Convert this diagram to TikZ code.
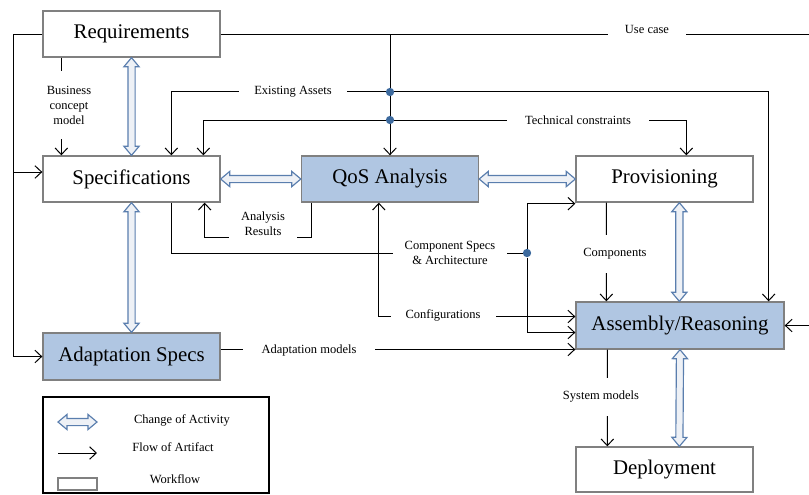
\documentclass[tikz,border=0pt]{standalone}
\usepackage{fontspec}
\setmainfont{Liberation Serif}
\usepackage{tikz}
\usetikzlibrary{positioning,calc,arrows.meta,shapes.arrows}
\definecolor{boxblue}{HTML}{B0C6E2}
\definecolor{boxgray}{HTML}{808080}
\definecolor{chgline}{HTML}{5A7EAE}
\definecolor{chgfill}{HTML}{EEF1F6}
\definecolor{dotblue}{HTML}{3D6A9E}
\tikzset{>={Straight Barb[length=4pt,width=7.5pt]}}
\tikzset{wbox/.style={draw=boxgray, line width=0.8pt, fill=white, minimum width=106.2pt, minimum height=27.6pt, inner sep=0pt, font=\fontsize{12.5}{14}\selectfont}}
\tikzset{bbox/.style={wbox, fill=boxblue}}
\tikzset{lbl/.style={fill=white, inner xsep=9pt, inner ysep=2pt, align=center, font=\fontsize{7.5}{9}\selectfont}}
\tikzset{vlbl/.style={lbl, inner xsep=1pt, inner ysep=6pt}}
\tikzset{dot/.style={circle, fill=dotblue, inner sep=0pt, minimum size=5pt}}
\tikzset{dblarr/.style={double arrow, draw=chgline, fill=chgfill, line width=0.7pt, inner sep=1.8pt, double arrow head extend=2.4pt, double arrow tip angle=80}}
\tikzset{chg/.style={to path={let \p1=($(\tikztotarget)-(\tikztostart)$), \n1={veclen(\x1,\y1)}, \n2={atan2(\y1,\x1)} in node[dblarr, minimum height=\n1, rotate=\n2] at ($(\tikztostart)!0.5!(\tikztotarget)$) {} (\tikztotarget)}}}
\tikzset{flow/.style={draw, line width=0.6pt}}

\begin{document}
\begin{tikzpicture}[x=0.6pt, y=-0.6pt]
    \useasboundingbox (0,0) rectangle (809,494);
    \clip (0,0) rectangle (809,494);
    % activities
    \node[wbox] (req) at (131.5,34) {Requirements};
    \node[wbox] (spec) at (131.5,179) {Specifications};
    \node[bbox] (qos) at (390,179) {QoS Analysis};
    \node[wbox] (prov) at (664.5,179) {Provisioning};
    \node[bbox, minimum width=124.8pt, minimum height=28.2pt] (asm) at (680,325.5) {Assembly/Reasoning};
    \node[wbox, minimum height=27pt] (dep) at (664.5,469.5) {Deployment};
    \node[bbox, minimum height=28.2pt] (ads) at (131.5,356.5) {Adaptation Specs};
    %
    % change of activity
    \path (req.south) to[chg] (spec.north);
    \path (spec.south) to[chg] (ads.north);
    \path (spec.east) to[chg] (qos.west);
    \path (qos.east) to[chg] (prov.west);
    \path ($(prov.south west)+(104,0)$) to[chg] ($(asm.north west)+(104,0)$);
    \path (asm.south -| 680,0) to[chg] ($(dep.north west)+(104,0)$);
    %
    % free ends
    \coordinate (ucr) at (830,34);
    \coordinate (lft) at (13,34);
    %
    % flow of artifacts
    \draw[flow, ->] (req.east) -- (ucr) |- (asm.east);
    \node[lbl, inner xsep=10pt, inner ysep=3pt] (uc) at (647,29) {Use case};
    \draw[flow, ->] (req.east -| qos.north) -- (qos.north);
    \draw[flow, ->] (req.west) -- (lft) |- (ads.west);
    \draw[flow, ->] (lft |- spec.west) ++(0,-7) -- ($(spec.west)+(0,-7)$);
    %
    \draw[flow, ->] ($(req.south west)+(19,0)$) -- ($(spec.north west)+(19,0)$);
    \node[vlbl, inner ysep=9pt] (bcm) at (69,105) {Business\\concept\\model};
    %
    \draw[flow, <->] ($(spec.north west)+(129,0)$) -- ++(0,-64) -| ($(asm.north east)+(-16,0)$);
    \node[lbl] (ea) at (293,92) {Existing Assets};
    \draw[flow, <->] ($(spec.north west)+(161,0)$) -- ++(0,-35) -| ($(prov.north west)+(111,0)$);
    \node[lbl, inner xsep=11pt] (tc) at (578,120) {Technical constraints};
    \node[dot] (j1) at (qos.north |- ea) {};
    \node[dot] (j2) at (qos.north |- tc) {};
    %
    \draw[flow, ->] ($(qos.south west)+(11,0)$) -- ++(0,35) -| ($(spec.south east)+(-16,0)$);
    \node[lbl, inner xsep=7pt, inner ysep=1pt] (ar) at (263,224) {Analysis\\Results};
    %
    \node[dot] (j3) at (527,253) {};
    \draw[flow] ($(spec.south west)+(129,0)$) |- (j3);
    \draw[flow, ->] (j3) |- ($(prov.south west)+(0,1)$);
    \draw[flow, ->] (j3) |- ($(asm.west)+(0,7)$);
    \node[lbl, inner xsep=7pt, inner ysep=1pt] (csa) at (450,253) {Component Specs\\\& Architecture};
    %
    \draw[flow, <->] ($(qos.south west)+(78,0)$) |- ($(asm.west)+(0,-9)$);
    \node[lbl, inner ysep=3pt] (cfg) at (443,315) {Configurations};
    %
    \draw[flow, ->] ($(ads.east)+(0,-7)$) -- ($(ads.east -| asm.west)+(0,-7)$);
    \node[lbl, inner xsep=11pt] (am) at (309,350) {Adaptation models};
    %
    \draw[flow, ->] ($(prov.south west)+(31,0)$) -- ($(asm.north west)+(31,0)$);
    \node[vlbl, inner ysep=8pt] (cmp) at (615,254) {Components};
    \draw[flow, ->] ($(asm.south west)+(32,0)$) -- ($(dep.north west)+(32,0)$);
    \node[vlbl, inner ysep=8pt] (sm) at (601,397) {System models};
    %
    % legend
    \node[draw, line width=0.8pt, minimum width=135.6pt, minimum height=57.6pt] (legend) at (156,445) {};
    \coordinate (l1a) at (58,422);
    \coordinate (l1b) at (97,422);
    \path (l1a) to[chg] (l1b);
    \node[lbl, fill=none] (lt1) at (182,420) {Change of Activity};
    \coordinate (l2a) at (58,453);
    \coordinate (l2b) at (97,453);
    \draw[flow, ->] (l2a) -- (l2b);
    \node[lbl, fill=none] (lt2) at (173,447) {Flow of Artifact};
    \node[draw=boxgray, line width=0.8pt, minimum width=23.4pt, minimum height=7.2pt, inner sep=0pt] (lwf) at (77.5,484) {};
    \node[lbl, fill=none] (lt3) at (175,479) {Workflow};
\end{tikzpicture}
\end{document}
